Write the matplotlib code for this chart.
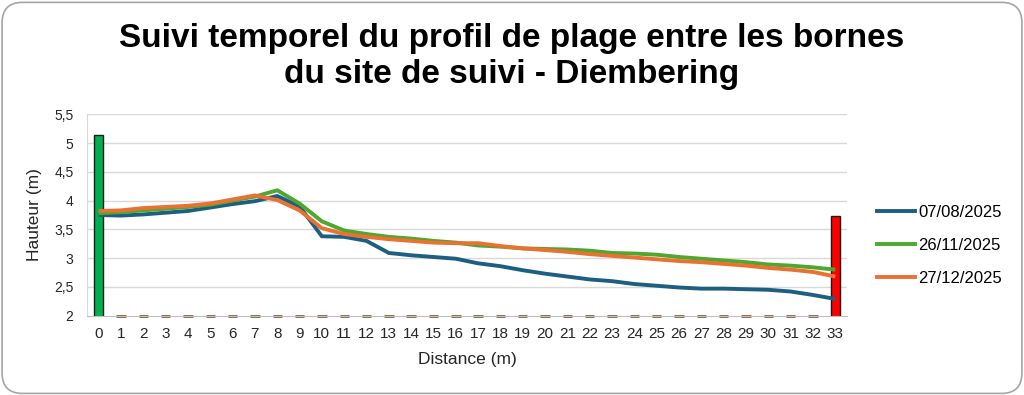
import matplotlib.pyplot as plt
from matplotlib.patches import FancyBboxPatch
from matplotlib.lines import Line2D

plt.rcParams['font.family'] = ['Liberation Sans', 'DejaVu Sans']

# distances along the profile (m)
distance = list(range(34))
labels = ["07/08/2025", "26/11/2025", "27/12/2025"]

h_0708 = [3.75, 3.74, 3.76, 3.79, 3.82, 3.88, 3.94, 3.99, 4.08, 3.90,
          3.38, 3.37, 3.30, 3.09, 3.05, 3.02, 2.99, 2.91, 2.86, 2.79,
          2.73, 2.68, 2.63, 2.60, 2.55, 2.52, 2.49, 2.47, 2.47, 2.46,
          2.45, 2.42, 2.36, 2.29]
h_2611 = [3.78, 3.80, 3.83, 3.86, 3.89, 3.93, 4.00, 4.07, 4.18, 3.95,
          3.64, 3.48, 3.42, 3.37, 3.34, 3.30, 3.27, 3.22, 3.20, 3.17,
          3.16, 3.15, 3.13, 3.09, 3.08, 3.06, 3.02, 2.99, 2.96, 2.93,
          2.89, 2.87, 2.84, 2.80]
h_2712 = [3.82, 3.83, 3.87, 3.89, 3.91, 3.95, 4.02, 4.09, 4.01, 3.83,
          3.52, 3.42, 3.37, 3.33, 3.30, 3.27, 3.26, 3.26, 3.21, 3.17,
          3.14, 3.11, 3.07, 3.04, 3.01, 2.98, 2.95, 2.93, 2.90, 2.87,
          2.83, 2.80, 2.76, 2.68]
colors = ["#1d5f82", "#4ea72e", "#e97132"]

# bornes (start / end markers)
borne_x = [0, 33]
borne_h = [5.14, 3.74]
borne_colors = ["#00b050", "#ff0000"]

y_ticks = [2, 2.5, 3, 3.5, 4, 4.5, 5, 5.5]
y_min = 2

fig = plt.figure(figsize=(10.24, 3.95), dpi=100)
ax = fig.add_axes([0.0854, 0.2008, 0.7413, 0.5098])

for y in y_ticks[1:]:
    ax.axhline(y, color="#d9d9d9", lw=1, zorder=0)

ax.bar(borne_x, borne_h, width=0.42, color=borne_colors,
       edgecolor="#1a1a1a", linewidth=1, zorder=2)

# empty intermediate positions shown as small marks on the axis
ax.bar(distance[1:-1], [0] * len(distance[1:-1]), bottom=y_min, width=0.42,
       color="#8b5a3c", edgecolor="#8b5a3c", linewidth=2, zorder=2, clip_on=False)

series = [h_0708, h_2611, h_2712]
for vals, c, lab in zip(series, colors, labels):
    ax.plot(distance, vals, color=c, lw=2.8, solid_capstyle="butt", zorder=3, label=lab)

ax.set_xlim(-0.5, 33.5)
ax.set_ylim(2, 5.5)
ax.set_xticks(distance)
ax.set_yticks(y_ticks)
ax.set_yticklabels([f"{v:g}".replace(".", ",") for v in y_ticks])
ax.tick_params(axis="y", length=0, labelsize=10, colors="#262626", pad=10)
ax.tick_params(axis="x", length=0, labelsize=11, colors="#262626", pad=8)

for s in ["top", "right"]:
    ax.spines[s].set_visible(False)
ax.spines["left"].set_color("#d9d9d9")
ax.spines["bottom"].set_color("#bfbfbf")

ax.set_xlabel("Distance (m)", fontsize=12.5, color="#262626", labelpad=8)
ax.set_ylabel("Hauteur (m)", fontsize=12.5, color="#262626", labelpad=9)

handles = [Line2D([], [], color=c, lw=2.8) for c in colors]
fig.legend(handles, labels, loc="upper left", bbox_to_anchor=(0.856, 0.482),
           frameon=False, fontsize=12, handlelength=2.3, handletextpad=0.2,
           labelspacing=1.1, borderpad=0, borderaxespad=0)

fig.text(0.5, 0.857, "Suivi temporel du profil de plage entre les bornes\ndu site de suivi - Diembering",
         ha="center", va="center", fontsize=24, fontweight="bold", linespacing=1.17)

border = FancyBboxPatch((0.002, 0.004), 0.996, 0.99, boxstyle="round,pad=0,rounding_size=0.02",
                        transform=fig.transFigure, fill=False, edgecolor="#a6a6a6", lw=1.2,
                        mutation_aspect=2.6)
fig.patches.append(border)

fig.savefig("out.png", dpi=100)
